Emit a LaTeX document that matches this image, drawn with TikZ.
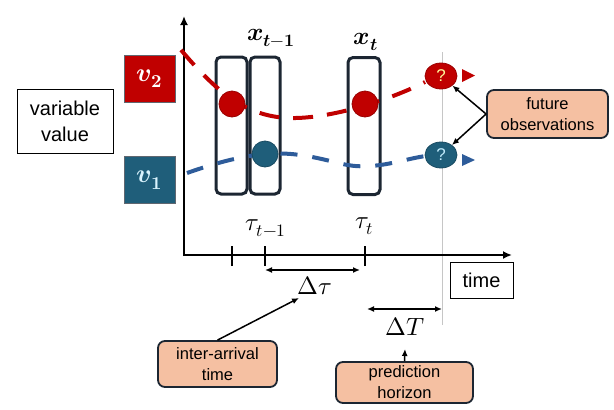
\documentclass[tikz,border=0pt]{standalone}
\usepackage{fontspec}
\usepackage{unicode-math}
\setmainfont{Liberation Sans}
\usetikzlibrary{arrows.meta,shapes.geometric}
\definecolor{dred}{RGB}{192,0,0}
\definecolor{dteal}{RGB}{31,94,122}
\definecolor{lblue}{RGB}{46,92,154}
\definecolor{peach}{RGB}{245,192,162}
\definecolor{navy}{RGB}{28,38,50}
\tikzset{
  plainbox/.style={draw=black, line width=1pt, align=center, inner sep=0pt, font=\fontsize{20}{26}\selectfont},
  vbox/.style={draw=navy!70, line width=1pt, inner sep=0pt, minimum width=51pt, minimum height=47pt, text=white, font=\fontsize{26}{28}\selectfont},
  obsbox/.style={draw=navy, line width=3pt, rounded corners=5pt, minimum width=31pt, minimum height=137pt, inner sep=0pt},
  note/.style={draw=navy, fill=peach, line width=1.8pt, rounded corners=7pt, align=center, inner sep=0pt, font=\fontsize{16.5}{21}\selectfont},
  dot/.style={circle, minimum size=26pt, inner sep=0pt, draw=#1!80!black, fill=#1, line width=0.8pt},
  qdot/.style 2 args={ellipse, minimum width=32pt, minimum height=26pt, inner sep=0pt, draw=#1!80!black, fill=#1, line width=0.8pt, text=#2, font=\fontsize{17}{17}\selectfont},
  mlabel/.style={inner sep=1pt, font=\fontsize{25}{28}\selectfont},
  axis/.style={line width=2pt, -{Latex[length=9pt,width=8pt]}},
  dim/.style={line width=1.6pt, {Latex[length=7pt,width=6pt]}-{Latex[length=7pt,width=6pt]}},
  pointer/.style={line width=1.5pt, -{Latex[length=7pt,width=6pt]}},
  reddash/.style={draw=dred, line width=4pt, dash pattern=on 20pt off 14pt},
  bluedash/.style={draw=lblue, line width=4pt, dash pattern=on 17pt off 15pt},
}
\begin{document}
\begin{tikzpicture}[x=1pt,y=-1pt]
\useasboundingbox (0,0) rectangle (614,410);
% left labels
\node[plainbox, minimum width=96pt, minimum height=64pt] (vv) at (65,121) {variable\\value};
\node[vbox, fill=dred] (v2) at (149.5,78.5) {$\symbfit{v}_{\symbf{2}}$};
\node[vbox, fill=dteal, text=cyan!15] (v1) at (149.5,180) {$\symbfit{v}_{\symbf{1}}$};
% thin gray horizon line
\draw[gray!45, line width=0.6pt] (442,52) -- (442,325);
% axes
\coordinate (o) at (184,255);
\coordinate (ytip) at (184,16);
\coordinate (xtip) at (512,255);
\draw[axis] (184,256) -- (ytip);
\draw[axis] (183,255) -- (xtip);
% ticks
\coordinate (t0) at (232,255);
\coordinate (t1) at (265,255);
\coordinate (t2) at (365,255);
\foreach \c in {t0,t1,t2} \draw[line width=1.8pt] ([yshift=-11pt]\c) -- ([yshift=9pt]\c);
\node[mlabel] (tau1) at (266,228) {$\tau_{t-1}$};
\node[mlabel] (tau2) at (364,226) {$\tau_t$};
% observation windows
\node[obsbox] (r1) at (231.5,125.5) {};
\node[obsbox, minimum width=30pt] (r2) at (265,125.5) {};
\node[obsbox, minimum width=32pt] (r3) at (364,126) {};
\node[mlabel] (xl1) at (271,38) {$\symbfit{x}_{\symbfit{t}-\symbf{1}}$};
\node[mlabel] (xl2) at (366,42) {$\symbfit{x}_{\symbfit{t}}$};
% curves
\draw[reddash] (181,50) .. controls (215,90) and (245,117) .. (290,118) .. controls (330,119) and (390,100) .. (425,82);
\draw[bluedash] (187,173) .. controls (230,158) and (265,150) .. (300,155) .. controls (335,160) and (345,168) .. (370,166) .. controls (390,165) and (410,158) .. (426,156);
\fill[dred] (462,69) -- (475,75.5) -- (462,82) -- cycle;
\fill[lblue] (462,154) -- (475,160) -- (462,166) -- cycle;
% dots
\node[dot=dred] (c1) at (232,104) {};
\node[dot=dteal] (c2) at (265,154) {};
\node[dot=dred] (c3) at (365,104) {};
\node[qdot={dred}{yellow!40}] (q2) at (441,76) {?};
\node[qdot={dteal}{cyan!25}] (q1) at (441,155) {?};
% future observations
\node[note, minimum width=121pt, minimum height=48pt] (fo) at (547.5,114) {future\\observations};
\draw[pointer] (fo.west) -- (q2);
\draw[pointer] (fo.west) -- (q1);
% time box
\node[plainbox, minimum width=63pt, minimum height=36pt] (time) at (481.5,280) {time};
% intervals
\coordinate (da) at (265,270);
\coordinate (db) at (360,270);
\draw[dim] (da) -- (db);
\node[mlabel] (dtau) at (315,286) {$\Delta\tau$};
\coordinate (ha) at (367,309);
\coordinate (hb) at (442,309);
\draw[dim] (ha) -- (hb);
\node[mlabel] (dT) at (405,327) {$\Delta T$};
% notes
\node[note, minimum width=119pt, minimum height=46pt] (ia) at (217.5,364) {inter-arrival\\time};
\node[note, minimum width=137pt, minimum height=41pt] (ph) at (404.5,382.5) {prediction\\horizon};
\coordinate (iatip) at (299,298);
\draw[pointer] (ia.north) -- (iatip);
\coordinate (phtip) at (405,349);
\draw[pointer] (ph.north) -- (phtip);
\end{tikzpicture}
\end{document}
